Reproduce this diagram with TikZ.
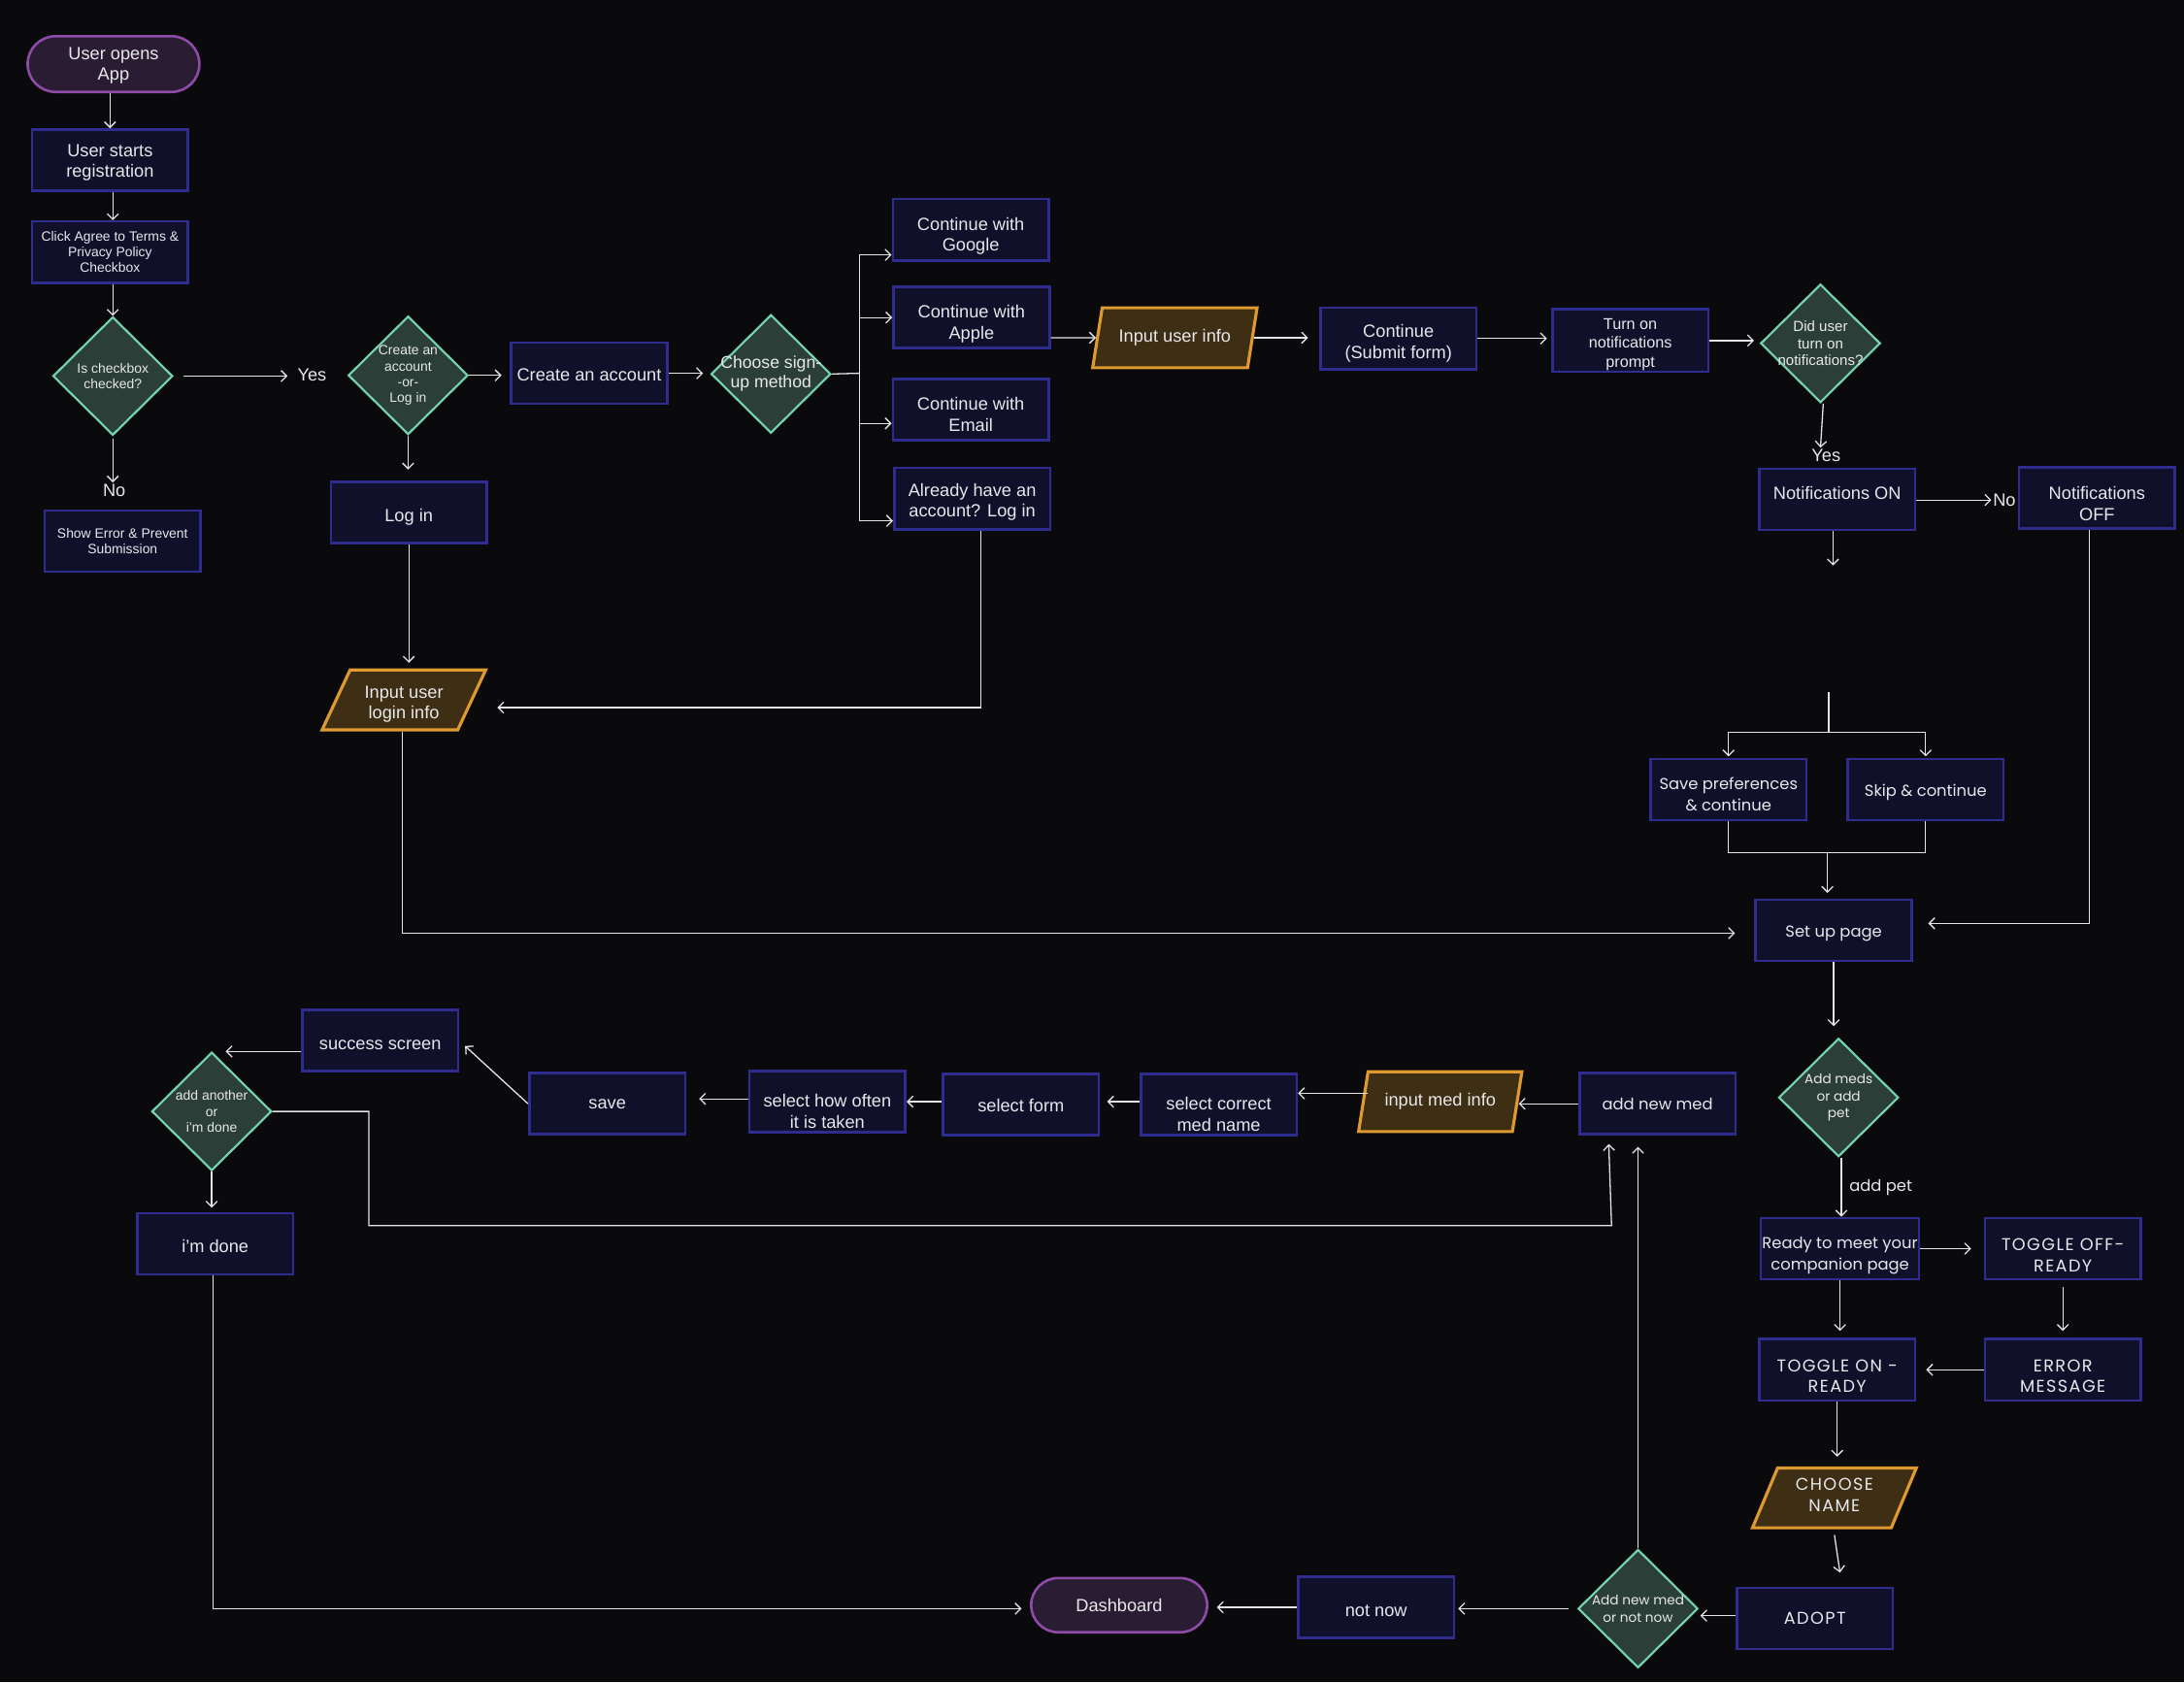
\documentclass[tikz,border=0pt]{standalone}
\usepackage{fontspec}
\setmainfont{Liberation Sans}
\newfontfamily\geofont{Poppins}
\usetikzlibrary{positioning, arrows.meta, shapes.geometric, shapes.misc, calc}

\definecolor{bgcol}{HTML}{0A0A0C}
\definecolor{boxfill}{HTML}{11102A}
\definecolor{boxdraw}{HTML}{2E2C8E}
\definecolor{decfill}{HTML}{2B3F38}
\definecolor{decdraw}{HTML}{74D3B0}
\definecolor{iofill}{HTML}{3E2F14}
\definecolor{iodraw}{HTML}{DE9A30}
\definecolor{termfill}{HTML}{2A1D33}
\definecolor{termdraw}{HTML}{8E4BA8}
\definecolor{txt}{HTML}{E8E8EC}
\definecolor{lin}{HTML}{E4E4E6}

\newcommand{\fmain}{\fontsize{12.7}{15}\selectfont}
\newcommand{\fmid}{\fontsize{11.3}{13.5}\selectfont}
\newcommand{\fsmall}{\fontsize{9.7}{11.3}\selectfont}
\newcommand{\fgeo}{\geofont\fontsize{11.4}{15}\selectfont}
\newcommand{\fgeocaps}{\geofont\addfontfeature{LetterSpace=8}\fontsize{12.3}{15}\selectfont}
\newcommand{\fgeosmall}{\geofont\fontsize{9.5}{12.2}\selectfont}
% invisible strut that pushes a node text down
\newcommand{\dn}[1]{\rule{0pt}{#1}}

\begin{document}
\begin{tikzpicture}[x=1pt, y=-1pt]
\tikzset{process/.style={
    rectangle, draw=boxdraw, fill=boxfill, line width=1.8pt, minimum width=112pt, minimum height=44pt, inner sep=1pt, align=center, text=txt, font=\fmain},
    boxtext/.style={align=center, text=txt, font=\fmain},
    decision/.style={
    diamond, draw=decdraw, fill=decfill, line width=1.5pt, minimum width=86pt, minimum height=85pt, inner sep=0pt},
    dtext/.style={align=center, text=txt, font=\fsmall},
    inout/.style={
    trapezium, trapezium left angle=66, trapezium right angle=114, trapezium stretches=true, draw=iodraw, fill=iofill, line width=2.2pt, minimum width=118pt, minimum height=43pt, inner sep=0pt, align=center, text=txt, font=\fmain},
    terminal/.style={
    rounded rectangle, draw=termdraw, fill=termfill, line width=1.8pt, minimum width=130pt, minimum height=40pt, align=center, text=txt, font=\fmain},
    answer/.style={text=txt, font=\fmain, inner sep=1pt},
    flow/.style={draw=lin, line width=0.9pt, -{Straight Barb[length=4pt,width=8pt]}},
    link/.style={draw=lin, line width=0.9pt}
}

    \fill[bgcol] (0,0) rectangle (1568,1208);
    \useasboundingbox (0,0) rectangle (1568,1208);

    % registration start
    \path (81.5,46) node[terminal] (open) {\dn{11pt}User opens\\App};
    \path (79,115) node[process] (reg) {\dn{12.3pt}User starts\\registration};
    \path (79,181) node[process, font=\fsmall] (terms) {Click Agree to Terms \&\\Privacy Policy\\Checkbox};
    \path (81,270) node[decision, label={[dtext]center:Is checkbox\\checked?}] (chk) {};
    \path (224,269) node[answer] (yes1) {Yes};
    \path (82,352) node[answer] (no1) {No};
    \path (88,388.5) node[process, font=\fsmall] (err) {Show Error \& Prevent\\Submission};

    \path (293,269.5) node[decision, label={[dtext]center:Create an\\account\\-or-\\Log in}] (way) {};
    \path (423,268) node[process] (create) {\dn{11pt}Create an account};
    \path (293.5,368) node[process] (login) {\dn{15.3pt}Log in};
    \path (553.5,268.5) node[decision, label={[dtext, font=\fontsize{12.3}{14}\selectfont]center:Choose sign-\\up method}] (method) {};
    \coordinate (fork) at (617,268);

    % sign-up methods
    \path (697,165) node[process] (google) {\dn{18.3pt}Continue with\\Google};
    \path (697.5,228) node[process] (apple) {\dn{18.3pt}Continue with\\Apple};
    \path (697,294) node[process] (email) {\dn{16.3pt}Continue with\\Email};
    \path (698,358) node[process] (have) {\dn{14.3pt}Already have an\\account? Log in};
    \path (843.5,242.5) node[inout, minimum width=119pt] (userinfo) {Input user info};
    \path (290,502.5) node[inout] (logininfo) {\dn{15.3pt}Input user\\login info};
    \path (1004,243) node[process] (submit) {\dn{16.3pt}Continue\\(Submit form)};
    \path (1170.5,244.5) node[process, font=\fmid] (prompt) {\dn{13.4pt}Turn on\\notifications\\prompt};
    \path (1307,246.5) node[decision, label={[dtext, font=\fontsize{10.5}{12}\selectfont]center:Did user\\turn on\\notifications?}] (notif) {};
    \path (1311,327) node[answer] (yes2) {Yes};
    \path (1319,358.5) node[process] (non) {\raisebox{9pt}{Notifications ON}};
    \path (1439,359) node[answer] (no2) {No};
    \path (1505.5,357.5) node[process] (noff) {\dn{17.3pt}Notifications\\OFF};
    \coordinate (gapA) at (1316,406);
    \coordinate (gapB) at (1313,497);

    % set up
    \path (1241,567) node[process, font=\fgeo] (savep) {\dn{15.6pt}Save preferences\\\& continue};
    \path (1382.5,567) node[process, font=\fgeo] (skip) {\dn{12.6pt}Skip \& continue};
    \path (1316.5,668) node[process, font=\fgeo] (setup) {\dn{12.6pt}Set up page};
    \path (1320,788) node[decision, label={[dtext, font=\fgeosmall]center:Add meds\\or add\\pet}] (meds) {};
    \path (1321,896.5) node[process, font=\fgeo] (ready) {\dn{18.6pt}Ready to meet your\\companion page};
    \path (1481,896.5) node[process, font=\fgeocaps] (toff) {\dn{18pt}TOGGLE OFF-\\READY};
    \path (1481,983.5) node[process, font=\fgeocaps] (errmsg) {\dn{18pt}ERROR\\MESSAGE};
    \path (1319,983.5) node[process, font=\fgeocaps] (ton) {\dn{18pt}TOGGLE ON -\\READY};
    \path (1317,1075.5) node[inout, font=\fgeocaps] (choose) {CHOOSE\\NAME\rule[-4pt]{0pt}{0pt}};
    \path (1303,1162) node[process, font=\fgeocaps] (adopt) {ADOPT};
    \path (1176,1155) node[decision, label={[dtext, font=\fgeosmall]center:Add new med\\or not now}] (more) {};
    \path (988,1154) node[process] (notnow) {\dn{13.3pt}not now};
    \path (803.5,1152.5) node[terminal, minimum width=133pt, minimum height=39pt] (dash) {Dashboard};

    % meds
    \path (1190,792.5) node[process, font=\fgeo] (addmed) {add new med};
    \path (1034,791) node[inout] (medinfo) {input med info};
    \path (875,793) node[process, label={[boxtext, yshift=-7pt]center:select correct\\med name}] (medname) {};
    \path (733,793) node[process] (form) {\dn{11pt}select form};
    \path (594,791) node[process, label={[boxtext, yshift=-7pt]center:select how often\\it is taken}] (often) {};
    \path (436,792.5) node[process] (save) {save};
    \path (273,747) node[process] (success) {\dn{13.3pt}success screen};
    \path (152,798) node[decision, label={[dtext]center:add another\\or\\i'm done}] (another) {};
    \path (154.5,893) node[process] (done) {\dn{13.3pt}i'm done};

    % connectors
    \draw[flow] (open.south -| reg) -- (reg.north);
    \draw[flow] (reg.south -| chk) -- (terms.north -| chk);
    \draw[flow] (terms.south -| chk) -- (chk.north);
    \draw[flow] ([xshift=7pt]chk.east) -- ([xshift=-6pt]yes1.west |- chk.east);
    \draw[flow] ([yshift=-2pt]chk.south) -- (no1.north -| chk.south);
    \draw[flow] (way.east) -- ([xshift=-6pt]create.west |- way.east);
    \draw[flow] (way.south) -- ([yshift=8pt]login.north -| way.south);
    \draw[flow] (create.east) -- ([xshift=-5pt]method.west |- create.east);
    \draw[link] (method.east) -- (fork);
    \draw[link] (fork |- 0,183) -- (fork |- 0,374);
    \foreach \b/\y in {google/183, apple/228, email/304, have/374}
        \draw[flow] (fork |- 0,\y) -- (\b.west |- 0,\y);
    \draw[flow] (apple.east |- userinfo) -- (userinfo.west);
    \draw[flow] (userinfo.east) -- ([xshift=-8pt]submit.west |- userinfo.east);
    \draw[flow] (submit.east) -- ([xshift=-3pt]prompt.west |- submit.east);
    \draw[flow] (prompt.east) -- ([xshift=-4pt]notif.west |- prompt.east);
    \draw[flow] ([xshift=2pt]notif.south) -- (yes2.north -| notif.south);
    \draw[flow] (non.east |- no2) -- (no2.west);
    \draw[flow] (non.south -| gapA) -- (gapA);
    \draw[link] (gapB) -- (1313,526) coordinate (split);
    \draw[flow] (split) -| ([yshift=1pt]savep.north);
    \draw[flow] (split) -| ([yshift=1pt]skip.north);
    \draw[link] (savep.south) |- (1312,612) coordinate (join);
    \draw[link] (skip.south) |- (join);
    \draw[flow] (join) -- ([yshift=4pt]setup.north -| join);
    \draw[flow] (noff.south -| 1500,0) |- ([xshift=11pt]setup.east |- 0,663);
    \draw[flow] (login.south) -- ([yshift=4pt]logininfo.north -| login.south);
    \draw[flow] (have.south -| 704,0) |- (357,508);
    \draw[flow] (logininfo.south -| 289,0) |- ([xshift=-14pt]setup.west |- 0,670);

    \draw[flow] (setup.south) -- ([yshift=8pt]meds.north -| setup.south);
    \draw[flow] ([xshift=2pt]meds.south) -- ([xshift=2pt]meds.south |- ready.north) node[midway, right=2pt, text=txt, font=\fgeo] {add pet};
    \draw[flow] (ready.east) -- ([xshift=-9pt]toff.west);
    \draw[flow] ([yshift=-5pt]toff.south) -- ([yshift=5pt]errmsg.north);
    \draw[flow] (errmsg.west) -- ([xshift=7pt]ton.east);
    \draw[flow] (ready.south) -- ([yshift=5pt]ton.north -| ready.south);
    \draw[flow] (ton.south) -- ([yshift=7pt]choose.north -| ton.south);
    \draw[flow] ([yshift=-4pt]choose.south) -- ([xshift=18pt, yshift=10pt]adopt.north);
    \draw[flow] (adopt.west |- 0,1160) -- ([xshift=1pt]more.east |- 0,1160);
    \draw[flow] (more.north) -- ([yshift=-8pt]addmed.south -| more.north);
    \draw[flow] ([xshift=-6pt]more.west) -- ([xshift=2pt]notnow.east |- more.west);
    \draw[flow] (notnow.west) -- ([xshift=6pt]dash.east |- notnow.west);
    \draw[flow] (done.south -| 153,0) |- ([xshift=-6pt]dash.west |- 0,1155);

    \draw[flow] (addmed.west) -- (medinfo.east |- addmed.west);
    \draw[flow] ([xshift=4pt, yshift=6pt]medinfo.west) coordinate (m1) -- (medname.east |- m1);
    \draw[flow] (medname.west |- 0,791) -- ([xshift=5pt]form.east |- 0,791);
    \draw[flow] (form.west |- 0,791) -- (often.east |- 0,791);
    \draw[flow] (often.west |- 0,789) -- ([xshift=9pt]save.east |- 0,789);
    \draw[flow] (save.west) -- ([xshift=4pt, yshift=-4pt]success.east);
    \draw[flow] ([yshift=-8pt]success.west) -- ([xshift=10pt]another.north |- 0,755);
    \draw[flow] (another.east) -- ++(69,0) |- (1157,880) -- ([xshift=-35pt, yshift=-6pt]addmed.south);
    \draw[flow] (another.south) -- ([yshift=3pt]done.north -| another.south);

\end{tikzpicture}
\end{document}
